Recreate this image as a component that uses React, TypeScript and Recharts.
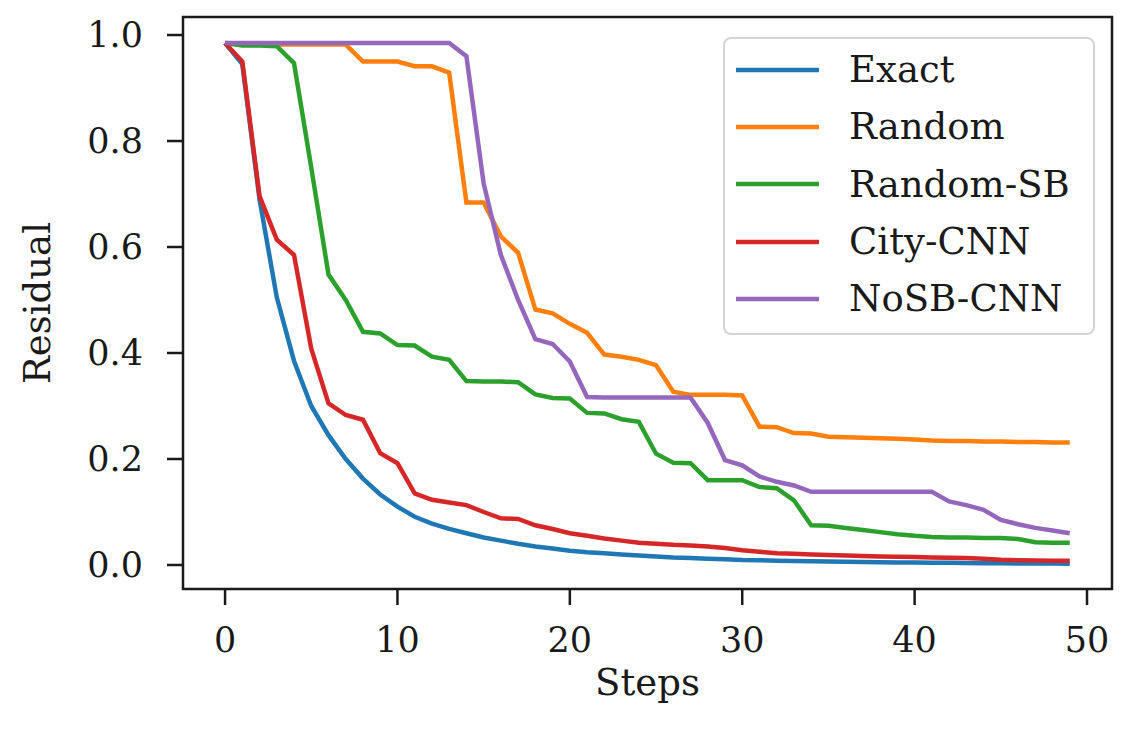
import React from 'react';
import { LineChart, Line, XAxis, YAxis, ReferenceArea } from 'recharts';

const steps = [0,1,2,3,4,5,6,7,8,9,10,11,12,13,14,15,16,17,18,19,20,21,22,23,24,25,26,27,28,29,30,31,32,33,34,35,36,37,38,39,40,41,42,43,44,45,46,47,48,49];

const exact = [0.985,0.945,0.69,0.505,0.385,0.30,0.245,0.20,0.163,0.133,0.11,0.091,0.078,0.068,0.06,0.052,0.046,0.04,0.035,0.031,0.027,0.024,0.022,0.02,0.018,0.016,0.014,0.013,0.012,0.011,0.0095,0.009,0.008,0.0075,0.007,0.0065,0.006,0.0055,0.005,0.0048,0.0045,0.0042,0.004,0.0037,0.0035,0.0033,0.003,0.0028,0.0026,0.0025];

const random = [0.985,0.982,0.982,0.982,0.982,0.982,0.982,0.982,0.95,0.95,0.95,0.941,0.941,0.929,0.684,0.684,0.62,0.589,0.482,0.475,0.455,0.438,0.397,0.393,0.387,0.377,0.327,0.321,0.321,0.321,0.32,0.261,0.26,0.249,0.248,0.242,0.241,0.24,0.239,0.238,0.237,0.235,0.234,0.234,0.233,0.233,0.232,0.232,0.231,0.231];

const randomSB = [0.985,0.98,0.98,0.979,0.947,0.75,0.548,0.50,0.44,0.437,0.415,0.414,0.393,0.387,0.347,0.346,0.346,0.345,0.322,0.315,0.314,0.287,0.286,0.275,0.27,0.21,0.193,0.192,0.16,0.16,0.16,0.147,0.145,0.122,0.075,0.074,0.07,0.066,0.062,0.058,0.055,0.053,0.052,0.052,0.051,0.051,0.049,0.043,0.042,0.042];

const cityCNN = [0.985,0.95,0.696,0.614,0.585,0.408,0.305,0.283,0.274,0.211,0.192,0.135,0.123,0.118,0.113,0.10,0.088,0.087,0.075,0.068,0.06,0.055,0.05,0.046,0.042,0.04,0.038,0.037,0.035,0.032,0.028,0.025,0.022,0.021,0.02,0.019,0.018,0.017,0.016,0.0155,0.015,0.014,0.0135,0.013,0.012,0.01,0.009,0.0085,0.008,0.008];

const noSBCNN = [0.985,0.985,0.985,0.985,0.985,0.985,0.985,0.985,0.985,0.985,0.985,0.985,0.985,0.985,0.96,0.72,0.585,0.50,0.426,0.417,0.384,0.317,0.316,0.316,0.316,0.316,0.316,0.316,0.268,0.198,0.188,0.167,0.157,0.15,0.138,0.138,0.138,0.138,0.138,0.138,0.138,0.138,0.12,0.113,0.104,0.085,0.077,0.07,0.065,0.06];

const xTicks = [0, 10, 20, 30, 40, 50];
const yTicks = [0, 0.2, 0.4, 0.6, 0.8, 1.0];
const xDomain = [-2.44, 51.45];
const yDomain = [-0.0453, 1.034];

const seriesNames = ['Exact', 'Random', 'Random-SB', 'City-CNN', 'NoSB-CNN'];
const seriesKeys = ['exact', 'random', 'randomSB', 'cityCNN', 'noSBCNN'];
const seriesColors = ['#1f77b4', '#ff7f0e', '#2ca02c', '#d62728', '#9467bd'];
const seriesValues = [exact, random, randomSB, cityCNN, noSBCNN];

const data = steps.map((s, i) => {
  const row: any = { step: s };
  seriesKeys.forEach((k, j) => { row[k] = seriesValues[j][i]; });
  return row;
});

const FONT = '"DejaVu Serif", serif';
const INK = '#1a1a1a';

const YLabel = (props: any) => {
  const vb = props.viewBox || {};
  const cx = (vb.x || 0) + 37;
  const cy = (vb.y || 0) + (vb.height || 0) / 2;
  return (
    <text x={cx} y={cy} transform={`rotate(-90, ${cx}, ${cy})`} textAnchor="middle" dominantBaseline="central" fontFamily={FONT} fontSize={37} fill={INK}>
      Residual
    </text>
  );
};

const XLabel = (props: any) => {
  const vb = props.viewBox || {};
  const cx = (vb.x || 0) + (vb.width || 0) / 2;
  const y = (vb.y || 0) + 106;
  return (
    <text x={cx} y={y} textAnchor="middle" fontFamily={FONT} fontSize={37} fill={INK}>
      Steps
    </text>
  );
};

const LegendBox = () => (
  <div style={{
    position: 'absolute', left: 723, top: 37, width: 372, height: 298, boxSizing: 'border-box',
    border: '2.5px solid #d4d4d4', borderRadius: 8, background: 'rgba(255,255,255,0.85)',
    paddingTop: 2, fontFamily: FONT,
  }}>
    {seriesNames.map((name, j) => (
      <div key={name} style={{ display: 'flex', alignItems: 'center', height: 57.3 }}>
        <svg width={124} height={10} style={{ flex: 'none' }}>
          <line x1={11} x2={94} y1={5} y2={5} stroke={seriesColors[j]} strokeWidth={4.5} />
        </svg>
        <span style={{ fontSize: 37, color: INK, lineHeight: 1 }}>{name}</span>
      </div>
    ))}
  </div>
);

export default function App() {
  return (
    <div style={{ position: 'absolute', left: 0, top: 0, width: 1121, height: 730, background: '#fff' }}>
      <LineChart width={1121} height={730} data={data} margin={{ top: 17, right: 9, left: 0, bottom: 0 }}>
        <XAxis
          dataKey="step" type="number" domain={xDomain} ticks={xTicks} allowDataOverflow
          height={141} tickSize={16} tickMargin={22}
          tick={{ fill: INK, fontSize: 35, fontFamily: FONT }}
          axisLine={false} tickLine={{ stroke: INK, strokeWidth: 2.5 }}
          label={<XLabel />}
        />
        <YAxis
          type="number" domain={yDomain} ticks={yTicks} allowDataOverflow width={183}
          tickSize={16} tickMargin={24} tickFormatter={(v: number) => v.toFixed(1)}
          tick={{ fill: INK, fontSize: 35, fontFamily: FONT }}
          axisLine={false} tickLine={{ stroke: INK, strokeWidth: 2.5 }}
          label={<YLabel />}
        />
        {seriesKeys.map((k, j) => (
          <Line key={k} dataKey={k} name={seriesNames[j]} stroke={seriesColors[j]} strokeWidth={4.5}
            dot={false} activeDot={false} isAnimationActive={false} type="linear" />
        ))}
        <ReferenceArea
          x1={xDomain[0]} x2={xDomain[1]} y1={yDomain[0]} y2={yDomain[1]}
          fill="none" stroke={INK} strokeWidth={2.5} fillOpacity={0} ifOverflow="visible"
        />
      </LineChart>
      <LegendBox />
    </div>
  );
}
